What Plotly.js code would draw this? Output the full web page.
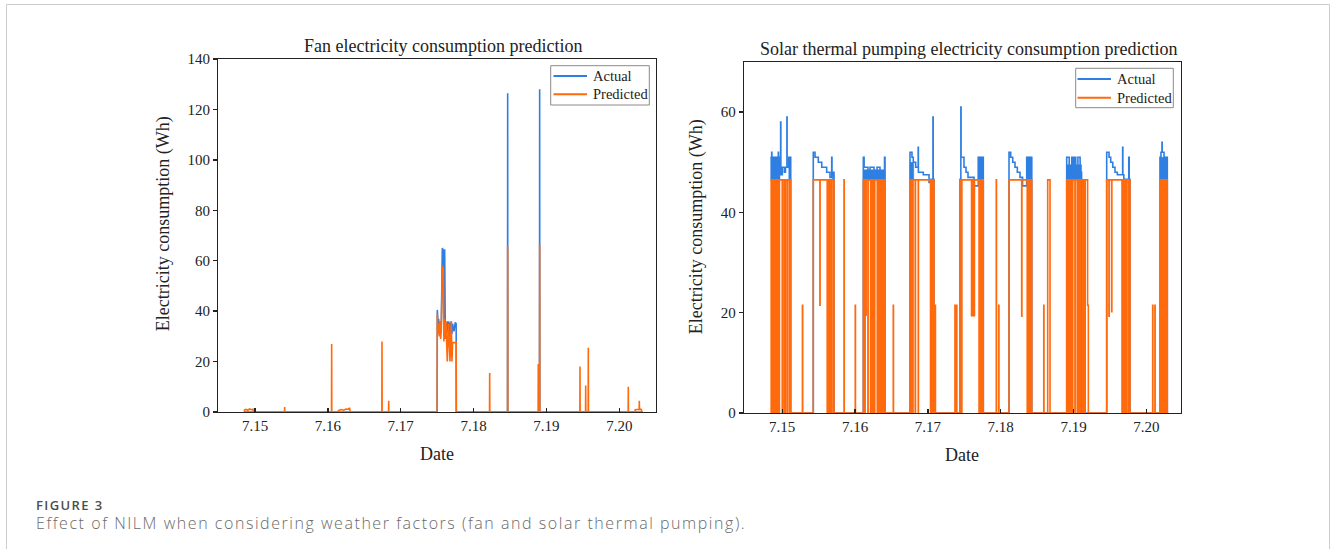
<!DOCTYPE html>
<html><head><meta charset="utf-8">
<script src="https://cdn.plot.ly/plotly-3.0.1.min.js"></script>
<style>
html,body{margin:0;padding:0;background:#fff;}
#wrap{position:relative;width:1330px;height:549px;overflow:hidden;}
#chart{position:absolute;left:0;top:0;width:1330px;height:549px;}
.cap{position:absolute;left:36px;font-family:'Open Sans',sans-serif;white-space:nowrap;line-height:1;margin:0;display:inline-block;}
#figlabel{top:498.5px;font-size:13px;font-weight:600;color:#4d4d4d;letter-spacing:1.4px;}
#figcap{top:515px;font-size:16px;font-weight:300;color:#6a6a6a;letter-spacing:1.55px;}
</style>
</head><body><div id="wrap"><div id="chart"></div>
<span class="cap" id="figlabel">FIGURE 3</span>
<span class="cap" id="figcap">Effect of NILM when considering weather factors (fan and solar thermal pumping).</span>
</div>
<script>
// ---- data (x in day-of-July, e.g. 15.5 = noon on 7.15) ----
const tickDays = [15, 16, 17, 18, 19, 20];
const tickLabels = ['7.15', '7.16', '7.17', '7.18', '7.19', '7.20'];
const fanTicksY = [0, 20, 40, 60, 80, 100, 120, 140];
const solarTicksY = [0, 20, 40, 60];
const seriesNames = ['Actual', 'Predicted'];

// Fan: [time, Wh]
const fanActual = [
  [14.853,0],[17.500,0],[17.502,40.5],[17.511,36],[17.520,37],[17.529,33],[17.539,36],[17.548,31],[17.557,35],
  [17.571,65],[17.584,64],[17.593,30],[17.603,64.5],[17.612,32],[17.621,35],[17.630,30],[17.639,36],[17.648,32],
  [17.657,36],[17.667,30],[17.676,35.5],[17.685,31],[17.694,36],[17.703,31],[17.712,35],[17.731,32],[17.749,35.5],
  [17.761,35],[17.763,0],
  [18.466,0],[18.468,126.4],[18.470,0],
  [18.905,0],[18.907,128],[18.909,0],
  [20.321,0]
];
const fanPredicted = [
  [14.853,0],[14.856,0.8],[14.875,1.0],[14.900,0.7],[14.925,1.2],[14.950,0.9],[14.972,1.1],[14.976,0],
  [15.405,0],[15.407,2],[15.409,0],
  [16.050,0],[16.052,27],[16.054,0],
  [16.141,0],[16.145,0.6],[16.180,1.0],[16.215,0.7],[16.250,1.2],[16.280,1.1],[16.300,1.6],[16.304,0],
  [16.741,0],[16.743,28],[16.745,0],
  [16.833,0],[16.835,4.5],[16.837,0],
  [17.500,0],[17.502,39],[17.511,31],[17.520,35],[17.529,30],[17.539,36],[17.548,29],[17.557,33],[17.571,58],
  [17.584,57],[17.593,28],[17.603,37],[17.612,29],[17.621,36],[17.630,27],[17.639,20],[17.648,28],[17.657,35],
  [17.667,27.5],[17.676,20],[17.685,27.5],[17.694,36],[17.703,20],[17.712,27.5],[17.731,27.5],[17.749,27.5],
  [17.761,27.5],[17.763,0],
  [18.219,0],[18.221,15.5],[18.223,0],
  [18.466,0],[18.468,65.7],[18.470,0],
  [18.886,0],[18.888,19],[18.890,0],
  [18.905,0],[18.907,66.5],[18.909,0],
  [19.459,0],[19.461,18],[19.463,0],
  [19.537,0],[19.539,10.5],[19.541,0],
  [19.573,0],[19.575,25.5],[19.577,0],
  [20.122,0],[20.124,10],[20.126,0],
  [20.214,0],[20.218,0.8],[20.240,1.0],[20.260,0.9],[20.273,1.0],[20.275,4.5],[20.277,1.0],[20.295,1.1],
  [20.305,0.8],[20.308,0],[20.321,0]
];

// Solar thermal pumping: step series [time, Wh] (value holds until next time)
const solarActual = [
  [14.842,51],[14.856,52],[14.859,51],[14.947,52],[14.950,51],[14.970,47.5],[14.979,58],[14.982,47.5],
  [15.002,49],[15.030,48],[15.045,49],[15.065,59],[15.068,49],[15.091,51],[15.117,0],
  [15.427,52],[15.451,51],[15.496,50],[15.543,49],[15.611,48],[15.656,47],[15.680,51],[15.684,47.5],[15.700,48],[15.711,0],
  [16.114,51],[16.125,49],[16.178,48],[16.206,49],[16.261,48],[16.302,49],[16.343,47.5],[16.384,48],[16.405,51],[16.412,0],
  [16.755,52],[16.782,51],[16.800,50],[16.833,49],[16.867,53],[16.870,48],[16.937,47.5],[17.016,46],[17.043,46.6],
  [17.070,59],[17.073,46.6],[17.084,0],
  [17.441,46.6],[17.453,61],[17.456,51],[17.496,49],[17.524,48],[17.551,47],[17.634,45.3],[17.692,51],[17.761,0],
  [18.114,52],[18.137,51],[18.165,50],[18.196,49],[18.228,48],[18.265,47],[18.300,45.3],[18.357,51],[18.426,0],
  [18.906,51],[18.940,49],[18.975,51],[18.990,48.5],[19.010,51],[19.030,49],[19.060,51],[19.090,48],[19.110,0],
  [19.455,52],[19.487,51],[19.510,50],[19.538,49],[19.569,48],[19.601,47.5],[19.674,53],[19.677,47.5],[19.690,46.6],
  [19.758,51],[19.764,46.6],[19.775,0],
  [20.187,51],[20.200,52],[20.214,54],[20.217,52],[20.242,51],[20.287,0],[20.300,0]
];
// rapid on/off stretches of the actual signal: [start, end, low, high]
const solarActualDense = [
  [14.842,14.970,46.5,51],[15.091,15.117,46.5,51],[15.688,15.711,46.5,48],
  [16.114,16.412,46.5,48.5],[16.755,16.806,46.5,50],[17.692,17.761,46.5,51],
  [18.357,18.426,46.5,51],[18.906,19.110,46.5,49.5],[20.187,20.287,46.5,51]
];
const solarPredicted = [
  [14.842,46.5],[15.001,0],[15.004,46.5],[15.072,0],[15.075,46.5],[15.117,0],
  [15.278,21.5],[15.282,0],
  [15.427,46.5],[15.518,21.5],[15.521,46.5],[15.618,0],[15.621,46.5],[15.637,0],[15.640,46.5],[15.655,0],[15.658,46.5],
  [15.673,0],[15.676,46.5],[15.711,0],
  [15.849,46.5],[15.852,0],[16.003,21.5],[16.006,0],
  [16.114,46.5],[16.136,0],[16.139,46.5],[16.150,19.5],[16.153,46.5],[16.177,0],[16.180,46.5],[16.412,0],
  [16.525,21.5],[16.528,0],
  [16.755,46.5],[16.827,0],[16.830,46.5],[16.868,0],[16.871,46.5],[17.084,0],
  [17.101,21.5],[17.104,0],[17.372,21.5],[17.375,0],[17.395,21.5],[17.398,0],
  [17.441,46.5],[17.464,0],[17.467,46.5],[17.761,0],
  [17.939,46.5],[17.942,0],[17.973,21.5],[17.976,0],
  [18.114,46.5],[18.288,19.3],[18.291,46.5],[18.426,0],
  [18.591,21.5],[18.594,0],[18.645,46.5],[18.677,0],
  [18.906,46.5],[19.019,0],[19.022,46.5],[19.126,0],[19.129,46.5],[19.141,0],[19.144,46.5],[19.157,0],[19.160,46.5],
  [19.193,21.5],[19.203,0],
  [19.455,46.5],[19.486,19.3],[19.489,46.5],[19.523,20.2],[19.526,46.5],[19.665,0],[19.668,46.5],[19.683,0],[19.686,46.5],
  [19.707,0],[19.710,46.5],[19.730,0],[19.733,46.5],[19.757,0],[19.765,46.5],[19.775,0],
  [20.086,21.5],[20.089,0],[20.117,21.5],[20.120,0],
  [20.187,46.5],[20.287,0],[20.300,0]
];
// rapid on/off stretches of the predicted signal: [start, end, low, high]
const solarPredictedDense = [
  [14.842,14.970,0,46.5],[15.015,15.059,0,46.5],[15.091,15.117,0,46.5],[15.688,15.711,0,46.5],
  [16.206,16.278,0,46.5],[16.298,16.412,0,46.5],[16.755,16.806,0,46.5],[17.029,17.084,0,46.5],
  [17.592,17.647,19.3,46.5],[17.695,17.761,0,46.5],[18.357,18.426,0,46.5],
  [18.906,18.997,0,46.5],[19.043,19.112,0,46.5],[20.187,20.287,0,46.5]
];

// ---- build ----
const W = 1330, H = 549;
const BLUE = '#2f7fe3', ORANGE = '#ff6a0d';
const SERIF = 'Liberation Serif, Times New Roman, serif';
const px = v => v / W, py = v => 1 - v / H;
const X = a => a.map(p => p[0]), Y = a => a.map(p => p[1]);
function rects(list) {
  const x = [], y = [];
  list.forEach(([s, e, lo, hi]) => { x.push(s, s, e, e, s, null); y.push(lo, hi, hi, lo, lo, null); });
  return {x, y};
}
const aD = rects(solarActualDense), pD = rects(solarPredictedDense);

const traces = [
  {x: X(fanActual), y: Y(fanActual), type: 'scatter', mode: 'lines', name: seriesNames[0], showlegend: false,
   line: {color: BLUE, width: 1.6}, xaxis: 'x', yaxis: 'y'},
  {x: X(fanPredicted), y: Y(fanPredicted), type: 'scatter', mode: 'lines', name: seriesNames[1], showlegend: false,
   line: {color: ORANGE, width: 1.6}, xaxis: 'x', yaxis: 'y'},
  {x: aD.x, y: aD.y, type: 'scatter', mode: 'lines', fill: 'toself', fillcolor: BLUE, showlegend: false,
   line: {color: BLUE, width: 0.5}, xaxis: 'x2', yaxis: 'y2', hoverinfo: 'skip'},
  {x: X(solarActual), y: Y(solarActual), type: 'scatter', mode: 'lines', name: seriesNames[0], showlegend: false,
   line: {color: BLUE, width: 1.6, shape: 'hv'}, xaxis: 'x2', yaxis: 'y2'},
  {x: pD.x, y: pD.y, type: 'scatter', mode: 'lines', fill: 'toself', fillcolor: ORANGE, showlegend: false,
   line: {color: ORANGE, width: 0.5}, xaxis: 'x2', yaxis: 'y2', hoverinfo: 'skip'},
  {x: X(solarPredicted), y: Y(solarPredicted), type: 'scatter', mode: 'lines', name: seriesNames[1], showlegend: false,
   line: {color: ORANGE, width: 1.6, shape: 'hv'}, xaxis: 'x2', yaxis: 'y2'}
];

const tfont = {family: SERIF, size: 15, color: '#222'};
const axisBase = {showgrid: false, zeroline: false, showline: true, mirror: true, linecolor: '#222', linewidth: 1.3,
  tickcolor: '#222', tickwidth: 1.3, ticklen: 4, tickfont: tfont, fixedrange: true};
const xBase = Object.assign({}, axisBase, {tickmode: 'array', tickvals: tickDays, ticktext: tickLabels, ticks: 'inside'});
const yBase = Object.assign({}, axisBase, {tickmode: 'array', ticks: 'outside'});

function ann(text, x, y, opts) {
  return Object.assign({text, x: px(x), y: py(y), xref: 'paper', yref: 'paper', showarrow: false,
    xanchor: 'center', yanchor: 'middle', font: {family: SERIF, size: 18, color: '#222'}}, opts || {});
}
// hand-drawn legend boxes (box, sample lines, labels) for each panel
function legendParts(x0, y0, x1, y1, lineX0, lineX1, rowY, textX) {
  const shapes = [{type: 'rect', xref: 'paper', yref: 'paper', x0: px(x0), x1: px(x1), y0: py(y0), y1: py(y1),
    line: {color: '#8a8a8a', width: 1}, fillcolor: '#fff', layer: 'above'}];
  const anns = [];
  [BLUE, ORANGE].forEach((c, i) => {
    shapes.push({type: 'line', xref: 'paper', yref: 'paper', x0: px(lineX0), x1: px(lineX1), y0: py(rowY[i]), y1: py(rowY[i]),
      line: {color: c, width: 2}, layer: 'above'});
    anns.push(ann(seriesNames[i], textX, rowY[i], {xanchor: 'left', font: {family: SERIF, size: 14.5, color: '#222'}}));
  });
  return {shapes, anns};
}
const legL = legendParts(550.7, 65.7, 649.3, 105, 553.5, 587, [76, 94.3], 590.5);
const legR = legendParts(1075.7, 68.3, 1173.3, 107.7, 1077.5, 1111, [79, 97.7], 1114.5);

const layout = {
  width: W, height: H, margin: {l: 0, r: 0, t: 0, b: 0}, paper_bgcolor: 'rgba(0,0,0,0)', plot_bgcolor: '#fff',
  font: {family: SERIF, color: '#222'}, showlegend: false,
  xaxis: Object.assign({}, xBase, {domain: [px(218.3), px(656)], range: [14.496, 20.504], anchor: 'y'}),
  yaxis: Object.assign({}, yBase, {domain: [py(412), py(59)], range: [0, 140], tickvals: fanTicksY, anchor: 'x'}),
  xaxis2: Object.assign({}, xBase, {domain: [px(744), px(1181)], range: [14.476, 20.475], anchor: 'y2'}),
  yaxis2: Object.assign({}, yBase, {domain: [py(413), py(62)], range: [0, 70], tickvals: solarTicksY, anchor: 'x2'}),
  annotations: [
    ann('Fan electricity consumption prediction', 443.3, 45.7),
    ann('Solar thermal pumping electricity consumption prediction', 968.7, 49),
    ann('Date', 436.7, 454),
    ann('Date', 962, 455),
    ann('Electricity consumption (Wh)', 163.3, 224, {textangle: -90}),
    ann('Electricity consumption (Wh)', 696.7, 226.5, {textangle: -90})
  ].concat(legL.anns, legR.anns),
  shapes: [
    {type: 'rect', xref: 'paper', yref: 'paper', x0: px(6.5), x1: px(1329.5), y0: py(4.5), y1: py(570),
     line: {color: '#cccccc', width: 1}, fillcolor: 'rgba(0,0,0,0)', layer: 'below'}
  ].concat(legL.shapes, legR.shapes)
};

Plotly.newPlot('chart', traces, layout, {staticPlot: true, displayModeBar: false});
</script></body></html>
